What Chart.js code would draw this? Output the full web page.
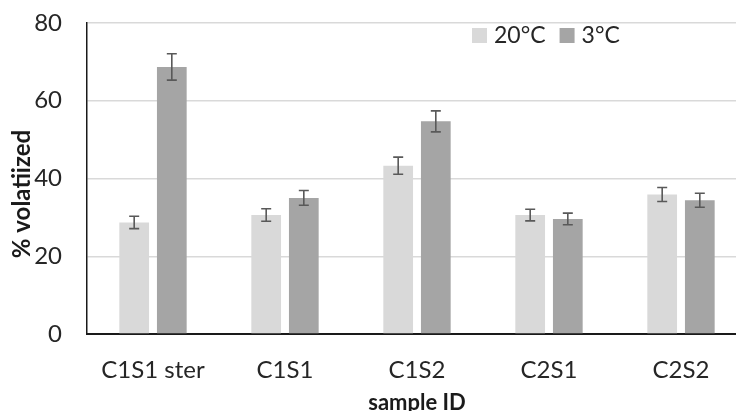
<!DOCTYPE html>
<html>
<head>
<meta charset="utf-8">
<script src="https://cdn.jsdelivr.net/npm/chart.js@4"></script>
<style>
  html, body { margin: 0; padding: 0; background: #fff; overflow: hidden; }
  #wrap { width: 760px; height: 411px; }
</style>
</head>
<body>
<div id="wrap"><canvas id="chart" width="760" height="411"></canvas></div>
<script>
// volatilization per sample, two incubation temperatures
const samples = ['C1S1 ster', 'C1S1', 'C1S2', 'C2S1', 'C2S2'];
const warm = [28.7, 30.6, 43.3, 30.6, 35.9];     // 20°C
const warmErr = [1.6, 1.6, 2.2, 1.5, 1.8];
const cold = [68.7, 35.0, 54.7, 29.6, 34.4];     // 3°C
const coldErr = [3.4, 1.9, 2.7, 1.5, 1.8];
const yTicks = [0, 20, 40, 60, 80];

const FONT = 'Lato, "Open Sans", sans-serif';

// whiskers drawn from each bar's value +/- its error
const errorBars = {
  id: 'errorBars',
  afterDatasetsDraw(chart) {
    const ctx = chart.ctx;
    const y = chart.scales.y;
    ctx.save();
    ctx.strokeStyle = '#595959';
    ctx.lineWidth = 1.6;
    chart.data.datasets.forEach((ds, i) => {
      const meta = chart.getDatasetMeta(i);
      meta.data.forEach((bar, j) => {
        const v = ds.data[j], e = ds.errors[j];
        const top = y.getPixelForValue(v + e);
        const bot = y.getPixelForValue(v - e);
        const x = bar.x;
        ctx.beginPath();
        ctx.moveTo(x, top); ctx.lineTo(x, bot);
        ctx.moveTo(x - 5, top); ctx.lineTo(x + 5, top);
        ctx.moveTo(x - 5, bot); ctx.lineTo(x + 5, bot);
        ctx.stroke();
      });
    });
    ctx.restore();
  }
};

// legend inside the plot (top right) and the rotated y title
const annotations = {
  id: 'annotations',
  afterDraw(chart) {
    const ctx = chart.ctx;
    ctx.save();
    ctx.font = '23px ' + FONT;
    ctx.textBaseline = 'middle';
    let x = 472;
    const yc = 35;
    chart.data.datasets.forEach(ds => {
      ctx.fillStyle = ds.backgroundColor;
      ctx.fillRect(x, yc - 7, 15, 15);
      ctx.fillStyle = '#262626';
      ctx.fillText(ds.label, x + 22, yc + 1);
      x += 22 + ctx.measureText(ds.label).width + 14;
    });

    ctx.translate(22, 194);
    ctx.rotate(-Math.PI / 2);
    ctx.font = 'bold 24px ' + FONT;
    ctx.textAlign = 'center';
    ctx.fillStyle = '#1a1a1a';
    ctx.fillText('% volatiized', 0, 0);
    ctx.restore();
  }
};

new Chart(document.getElementById('chart'), {
  type: 'bar',
  data: {
    labels: samples,
    datasets: [
      { label: '20°C', data: warm, errors: warmErr, backgroundColor: '#d9d9d9',
        categoryPercentage: 0.57, barPercentage: 0.79 },
      { label: '3°C', data: cold, errors: coldErr, backgroundColor: '#a5a5a5',
        categoryPercentage: 0.57, barPercentage: 0.79 }
    ]
  },
  options: {
    responsive: false,
    animation: false,
    layout: { padding: { top: 23, right: 13, bottom: 0, left: 0 } },
    plugins: { legend: { display: false }, tooltip: { enabled: false } },
    scales: {
      x: {
        grid: { display: false, drawTicks: false },
        border: { color: '#1a1a1a', width: 2 },
        ticks: { font: { family: FONT, size: 24 }, color: '#262626', padding: 22 },
        title: { display: true, text: 'sample ID', color: '#1a1a1a',
                 font: { family: FONT, size: 22, weight: 'bold', lineHeight: 0.75 }, padding: { top: 0, bottom: 0 } },
        afterFit(s) { s.height = 77; s.paddingLeft = 0; s.paddingRight = 0; }
      },
      y: {
        min: 0, max: 80,
        afterBuildTicks(s) { s.ticks = yTicks.map(v => ({ value: v })); },
        grid: { color: '#d9d9d9', lineWidth: 1.5, drawTicks: false },
        border: { color: '#1a1a1a', width: 1.5 },
        ticks: { font: { family: FONT, size: 24 }, color: '#262626', padding: 25 },
        afterFit(s) { s.width = 87; s.paddingTop = 0; s.paddingBottom = 0; }
      }
    }
  },
  plugins: [errorBars, annotations]
});
</script>
</body>
</html>
